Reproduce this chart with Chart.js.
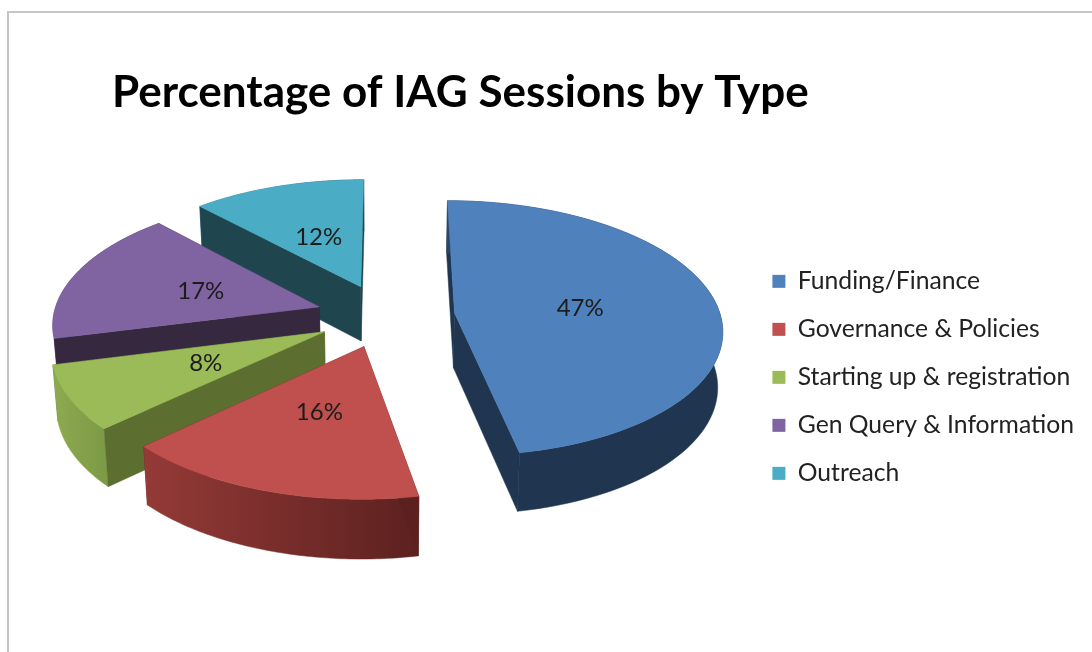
<!DOCTYPE html>
<html>
<head>
<meta charset="utf-8">
<title>Percentage of IAG Sessions by Type</title>
<script src="https://cdn.jsdelivr.net/npm/chart.js@4/dist/chart.umd.min.js"></script>
<style>
  html, body { margin: 0; padding: 0; background: #fff; overflow: hidden; }
  #frame { position: absolute; left: 7px; top: 11px; width: 1085px; height: 641px;
           border-left: 2px solid #c6c6c6; border-top: 2px solid #c6c6c6; }
  canvas { position: absolute; left: 0; top: 0; filter: blur(0.7px); }
</style>
</head>
<body>
<div id="frame"></div>
<canvas id="chart" width="1092" height="652"></canvas>
<script>
const categories = ['Funding/Finance', 'Governance & Policies', 'Starting up & registration', 'Gen Query & Information', 'Outreach'];
const shares = [47, 16, 8, 17, 12];

const topColors = ['#4f81bd', '#c0504d', '#9bbb59', '#8064a2', '#4bacc6'];
// side colours: cut faces, then left/right stops of the curved wall
const cutColors = ['#1f3550', '#5c211f', '#5c6f31', '#35283f', '#1f454f'];
const wallLeft = ['#2c4668', '#943a37', '#8dab50', '#6d5589', '#3d8ea4'];
const wallRight = ['#1f3550', '#5c211f', '#7d9a46', '#35283f', '#1f454f'];
const paintOrder = [4, 3, 2, 1, 0]; // back to front
const explodes = [70, 66, 68, 69, 68];

// look of the tilted pie
const pie = { cx: 385, cy: 316, radius: 266, tilt: 0.475, persp: 0.00045, depth: 55, labelAt: 0.48 };

function project(u, v, low) {
  const s = 1 / (1 - pie.persp * v);
  const x = pie.cx + u * s * (low ? 0.985 : 1);
  const y = pie.cy + v * pie.tilt * s + (low ? pie.depth * (1 + (s - 1) * 0.5) : 0);
  return [x, y];
}

function tracePath(ctx, pts) {
  ctx.beginPath();
  pts.forEach((p, i) => (i ? ctx.lineTo(p[0], p[1]) : ctx.moveTo(p[0], p[1])));
  ctx.closePath();
}

function fillPoly(ctx, pts, style) {
  tracePath(ctx, pts);
  ctx.fillStyle = style;
  ctx.strokeStyle = style;
  ctx.lineWidth = 0.5;
  ctx.fill();
  ctx.stroke();
}

/** Draws one arc element as an extruded wedge, taking its angles from the controller. */
function drawWedge(ctx, arc, i) {
  const mid = (arc.startAngle + arc.endAngle) / 2;
  const ou = Math.cos(mid) * explodes[i];
  const ov = Math.sin(mid) * explodes[i];
  const rim = [];
  const steps = 80;
  for (let n = 0; n <= steps; n++) {
    const a = arc.startAngle + (arc.endAngle - arc.startAngle) * n / steps;
    rim.push([ou + Math.cos(a) * pie.radius, ov + Math.sin(a) * pie.radius]);
  }
  const up = rim.map(p => project(p[0], p[1], false));
  const down = rim.map(p => project(p[0], p[1], true));
  const apexUp = project(ou, ov, false);
  const apexDown = project(ou, ov, true);

  // far cut faces first, the top face hides whatever lies behind it
  const first = rim[0], last = rim[steps];
  const cuts = [
    { v: first[1], pts: [apexUp, up[0], down[0], apexDown] },
    { v: last[1], pts: [apexUp, up[steps], down[steps], apexDown] },
  ].sort((a, b) => a.v - b.v);
  fillPoly(ctx, cuts[0].pts, cutColors[i]);

  const xs = up.map(p => p[0]);
  const grad = ctx.createLinearGradient(Math.min(...xs), 0, Math.max(...xs), 0);
  grad.addColorStop(0, wallLeft[i]);
  grad.addColorStop(i === 0 ? 0.15 : 1, wallRight[i]);
  if (i === 0) grad.addColorStop(1, wallRight[i]);
  fillPoly(ctx, up.concat(down.slice().reverse()), grad);

  fillPoly(ctx, cuts[1].pts, cutColors[i]);
  fillPoly(ctx, [apexUp].concat(up), topColors[i]);
}

const wedgePlugin = {
  id: 'wedges',
  beforeDatasetsDraw(chart) {
    const ctx = chart.ctx;
    const arcs = chart.getDatasetMeta(0).data;
    ctx.save();
    paintOrder.forEach(i => drawWedge(ctx, arcs[i], i));
    ctx.font = '24px Lato';
    ctx.fillStyle = '#1c1c1c';
    ctx.textAlign = 'center';
    ctx.textBaseline = 'middle';
    arcs.forEach((arc, i) => {
      const mid = (arc.startAngle + arc.endAngle) / 2;
      const r = explodes[i] + pie.radius * pie.labelAt;
      const p = project(Math.cos(mid) * r, Math.sin(mid) * r, false);
      ctx.fillText(shares[i] + '%', p[0], p[1] + 1);
    });
    ctx.restore();
    return false; // the flat arcs stay undrawn
  },
};

new Chart(document.getElementById('chart'), {
  type: 'pie',
  data: {
    labels: categories,
    datasets: [{ data: shares, backgroundColor: topColors, borderWidth: 0 }],
  },
  options: {
    responsive: false,
    animation: false,
    rotation: 0.1,
    layout: { padding: { left: 112, right: 8, top: 66, bottom: 143 } },
    plugins: {
      title: {
        display: true,
        text: 'Percentage of IAG Sessions by Type',
        align: 'start',
        color: '#000',
        font: { family: 'Lato', size: 44, weight: 'bold' },
        padding: { top: 0, bottom: 10 },
      },
      legend: {
        position: 'right',
        align: 'end',
        labels: {
          boxWidth: 13,
          boxHeight: 13,
          padding: 23.3,
          color: '#222',
          font: { family: 'Lato', size: 24.7 },
        },
      },
      tooltip: { enabled: false },
    },
  },
  plugins: [wedgePlugin],
});
</script>
</body>
</html>
